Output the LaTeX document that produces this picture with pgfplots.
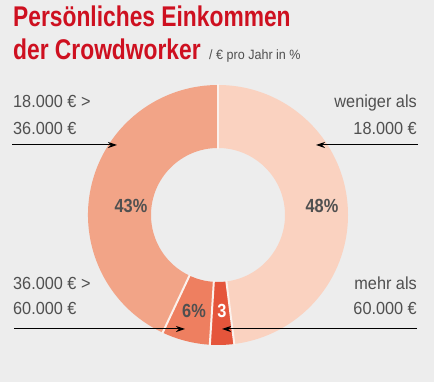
\documentclass[border=0pt]{standalone}
\usepackage{pgfplots}
\pgfplotsset{compat=1.18}
\usepackage{pgfplotstable}
\usepackage{fontspec}
\setmainfont{Liberation Sans}
\newfontfamily\titlefont[FakeStretch=0.80]{Liberation Sans}
\newfontfamily\pctfont[FakeStretch=0.86]{Liberation Sans}
\newfontfamily\labfont[FakeStretch=0.93]{Liberation Sans}
\usetikzlibrary{arrows.meta}
\definecolor{bg}{HTML}{EDEDED}
\definecolor{titlered}{HTML}{CE1020}
\definecolor{txt}{HTML}{505050}
\definecolor{sep}{HTML}{FBF1EC}
\definecolor{cA}{HTML}{FAD2C0}
\definecolor{cB}{HTML}{E5553B}
\definecolor{cC}{HTML}{EE7F60}
\definecolor{cD}{HTML}{F2A487}

\pgfplotstableread{
share
48
3
6
43
}\incometable

\begin{document}
\begin{tikzpicture}
\pgfplotstablegetelem{0}{share}\of\incometable \pgfmathsetmacro\sA{\pgfplotsretval}
\pgfplotstablegetelem{1}{share}\of\incometable \pgfmathsetmacro\sB{\pgfplotsretval}
\pgfplotstablegetelem{2}{share}\of\incometable \pgfmathsetmacro\sC{\pgfplotsretval}
\pgfplotstablegetelem{3}{share}\of\incometable \pgfmathsetmacro\sD{\pgfplotsretval}
\pgfmathsetmacro\aZero{90}
\pgfmathsetmacro\aOne{\aZero-3.6*\sA}
\pgfmathsetmacro\aTwo{\aOne-3.6*\sB}
\pgfmathsetmacro\aThree{\aTwo-3.6*\sC}
\pgfmathsetmacro\aFour{\aThree-3.6*\sD}
\begin{axis}[width=434pt,height=382pt,scale only axis,
  xmin=0,xmax=434,ymin=0,ymax=382,hide axis,clip=false]
\fill[bg] (axis cs:0,0) rectangle (axis cs:434,382);
\coordinate (C) at (axis cs:218,167);
\fill[cA] ([shift={(\aZero:130pt)}]C) arc[start angle=\aZero,end angle=\aOne,radius=130pt] -- ([shift={(\aOne:67pt)}]C) arc[start angle=\aOne,end angle=\aZero,radius=67pt] -- cycle;
\fill[cB] ([shift={(\aOne:130pt)}]C) arc[start angle=\aOne,end angle=\aTwo,radius=130pt] -- ([shift={(\aTwo:67pt)}]C) arc[start angle=\aTwo,end angle=\aOne,radius=67pt] -- cycle;
\fill[cC] ([shift={(\aTwo:130pt)}]C) arc[start angle=\aTwo,end angle=\aThree,radius=130pt] -- ([shift={(\aThree:67pt)}]C) arc[start angle=\aThree,end angle=\aTwo,radius=67pt] -- cycle;
\fill[cD] ([shift={(\aThree:130pt)}]C) arc[start angle=\aThree,end angle=\aFour,radius=130pt] -- ([shift={(\aFour:67pt)}]C) arc[start angle=\aFour,end angle=\aThree,radius=67pt] -- cycle;
\draw[sep,line width=2pt] ([shift={(\aZero:66pt)}]C) -- ([shift={(\aZero:131pt)}]C);
\draw[sep,line width=2pt] ([shift={(\aOne:66pt)}]C) -- ([shift={(\aOne:131pt)}]C);
\draw[sep,line width=2pt] ([shift={(\aTwo:66pt)}]C) -- ([shift={(\aTwo:131pt)}]C);
\draw[sep,line width=2pt] ([shift={(\aThree:66pt)}]C) -- ([shift={(\aThree:131pt)}]C);
% percentage labels
\node[txt,font=\pctfont\bfseries\fontsize{19}{19}\selectfont] at (axis cs:322,176) {48\%};
\node[txt,font=\pctfont\bfseries\fontsize{19}{19}\selectfont] at (axis cs:131,176) {43\%};
\node[txt,font=\pctfont\bfseries\fontsize{19}{19}\selectfont] at (axis cs:194,71) {6\%};
\node[white,font=\pctfont\bfseries\fontsize{19}{19}\selectfont] at (axis cs:222,71) {3};
% title
\node[titlered,anchor=base west,inner sep=0pt,font=\titlefont\bfseries\fontsize{28.5}{28.5}\selectfont] at (axis cs:13,355) {Persönliches Einkommen};
\node[titlered,anchor=base west,inner sep=0pt,font=\titlefont\bfseries\fontsize{28.5}{28.5}\selectfont] (T2) at (axis cs:13,322) {der Crowdworker};
\node[txt,anchor=base west,inner sep=0pt,font=\labfont\fontsize{13.5}{13.5}\selectfont] at (axis cs:209,322) {/ € pro Jahr in \%};
% side labels
\node[txt,anchor=base west,inner sep=0pt,font=\labfont\fontsize{17.5}{17.5}\selectfont] at (axis cs:13,274) {18.000 € >};
\node[txt,anchor=base west,inner sep=0pt,font=\labfont\fontsize{17.5}{17.5}\selectfont] at (axis cs:13,247) {36.000 €};
\node[txt,anchor=base east,inner sep=0pt,font=\labfont\fontsize{17.5}{17.5}\selectfont] at (axis cs:417,274) {weniger als};
\node[txt,anchor=base east,inner sep=0pt,font=\labfont\fontsize{17.5}{17.5}\selectfont] at (axis cs:417,247) {18.000 €};
\node[txt,anchor=base west,inner sep=0pt,font=\labfont\fontsize{17.5}{17.5}\selectfont] at (axis cs:13,92) {36.000 € >};
\node[txt,anchor=base west,inner sep=0pt,font=\labfont\fontsize{17.5}{17.5}\selectfont] at (axis cs:13,67) {60.000 €};
\node[txt,anchor=base east,inner sep=0pt,font=\labfont\fontsize{17.5}{17.5}\selectfont] at (axis cs:417,92) {mehr als};
\node[txt,anchor=base east,inner sep=0pt,font=\labfont\fontsize{17.5}{17.5}\selectfont] at (axis cs:417,67) {60.000 €};
% arrows
\draw[black,line width=1pt,-{Stealth[length=9pt,width=6pt]}] (axis cs:12,237) -- (axis cs:117,237);
\draw[black,line width=1pt,-{Stealth[length=9pt,width=6pt]}] (axis cs:418,237) -- (axis cs:316,237);
\draw[black,line width=1pt,-{Stealth[length=9pt,width=6pt]}] (axis cs:14,53) -- (axis cs:185,53);
\draw[black,line width=1pt,-{Stealth[length=9pt,width=6pt]}] (axis cs:417,53) -- (axis cs:222,53);
\end{axis}
\end{tikzpicture}
\end{document}
